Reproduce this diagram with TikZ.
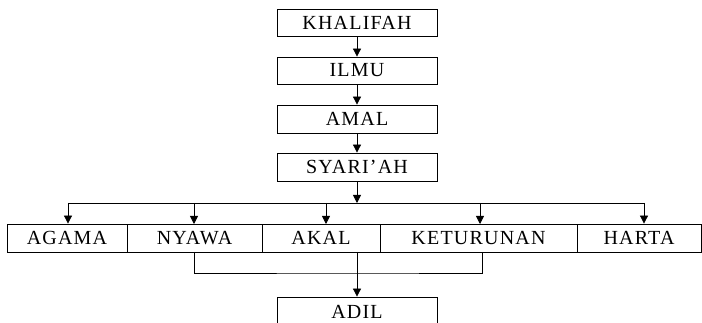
\documentclass[tikz,border=0pt]{standalone}
\usepackage{fontspec}
\setmainfont{Liberation Serif}[LetterSpace=6]
\usetikzlibrary{arrows.meta}
\begin{document}
\begin{tikzpicture}[x=1pt,y=-1pt,
  box/.style={draw,line width=0.8pt,inner sep=0pt,font=\fontsize{20}{22}\selectfont},
  arr/.style={line width=0.8pt,-{Triangle[length=8pt,width=8pt]}},
  ln/.style={line width=0.8pt}]
\useasboundingbox (0,0) rectangle (702,323);
% top chain
\node[box,minimum width=160pt,minimum height=27pt] (khalifah) at (357,22.5) {KHALIFAH};
\node[box,minimum width=160pt,minimum height=27pt] (ilmu) at (357,70.5) {ILMU};
\node[box,minimum width=160pt,minimum height=28pt] (amal) at (357,119) {AMAL};
\node[box,minimum width=160pt,minimum height=28pt] (syariah) at (357,167) {SYARI’AH};
% row
\node[box,minimum width=120pt,minimum height=28pt] (agama) at (67,238) {AGAMA};
\node[box,minimum width=135pt,minimum height=28pt] (nyawa) at (194.5,238) {NYAWA};
\node[box,minimum width=118pt,minimum height=28pt] (akal) at (321,238) {AKAL};
\node[box,minimum width=197pt,minimum height=28pt] (keturunan) at (478.5,238) {KETURUNAN};
\node[box,minimum width=124pt,minimum height=28pt] (harta) at (639,238) {HARTA};
% bottom
\node[box,minimum width=160pt,minimum height=30pt] (adil) at (357,312) {ADIL};
% coordinates
\coordinate (bus) at (357,203);
\coordinate (busL) at (68,203);
\coordinate (busR) at (644,203);
\coordinate (low) at (357,273);
% arrows
\draw[arr] (khalifah) -- (ilmu);
\draw[arr] (ilmu) -- (amal);
\draw[arr] (amal) -- (syariah);
\draw[arr] (syariah) -- (bus);
\draw[ln] (busL) -- (busR);
\draw[arr] (busL) -- (busL |- agama.north);
\draw[arr] (194,203) -- (194,224);
\draw[arr] (326,203) -- (326,224);
\draw[arr] (480,203) -- (480,224);
\draw[arr] (busR) -- (busR |- harta.north);
\draw[ln] (194,252) |- (low) -| (482,252);
\draw[arr] (357,252) -- (adil.north);
\end{tikzpicture}
\end{document}
